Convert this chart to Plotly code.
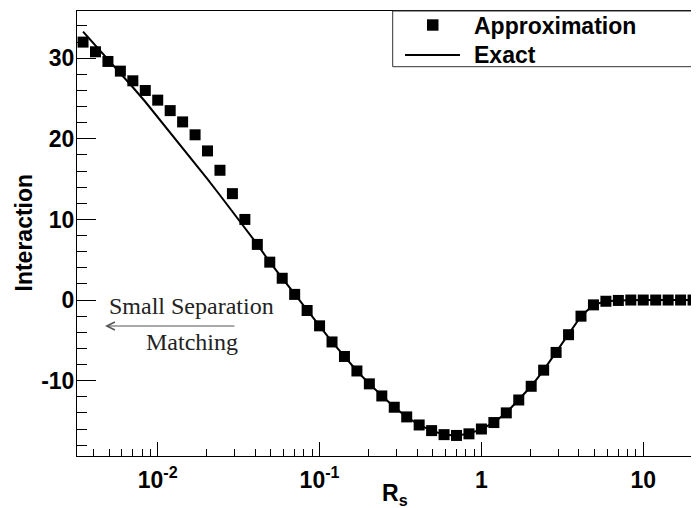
import plotly.graph_objects as go

# ---- data ----
rs = [0.003455, 0.004124, 0.004924, 0.005878, 0.007017, 0.008377, 0.01,
      0.011938, 0.014251, 0.017013, 0.020309, 0.024245, 0.028943, 0.034551,
      0.041246, 0.049239, 0.05878, 0.07017, 0.083768, 0.1,
      0.11938, 0.14251, 0.17013, 0.20309, 0.24245, 0.28943, 0.34551,
      0.41246, 0.49239, 0.5878, 0.7017, 0.83768, 1.0,
      1.1938, 1.4251, 1.7013, 2.0309, 2.4245, 2.8943, 3.4551,
      4.1246, 4.9239, 5.878, 7.017, 8.3768, 10.0,
      11.938, 14.251, 17.013, 20.309]

approx = [32.0, 30.8, 29.6, 28.4, 27.2, 26.0, 24.8,
          23.5, 22.1, 20.5, 18.5, 16.1, 13.2, 10.0,
          6.9, 4.7, 2.7, 0.7, -1.3, -3.2,
          -5.2, -7.0, -8.8, -10.4, -11.9, -13.3, -14.5,
          -15.5, -16.2, -16.7, -16.8, -16.6, -16.0,
          -15.2, -14.0, -12.4, -10.7, -8.7, -6.5, -4.3,
          -2.0, -0.6, -0.15, -0.05, 0.0, 0.0,
          0.0, 0.0, 0.0, 0.0]

exact_rs = rs + [24.245]
exact = [33.3, 31.6, 29.9, 28.2, 26.4, 24.6, 22.7,
         20.8, 18.9, 17.0, 15.0, 13.0, 11.0, 9.0,
         6.9, 4.7, 2.7, 0.7, -1.3, -3.2,
         -5.2, -7.0, -8.8, -10.4, -11.9, -13.3, -14.5,
         -15.5, -16.2, -16.7, -16.8, -16.6, -16.0,
         -15.2, -14.0, -12.4, -10.7, -8.7, -6.5, -4.3,
         -2.0, -0.6, -0.15, -0.05, 0.0, 0.0,
         0.0, 0.0, 0.0, 0.0, 0.0]

x_tickvals = [0.01, 0.1, 1, 10]
x_ticktext = ["10<sup>-2</sup>", "10<sup>-1</sup>", "1", "10"]
x_minorvals = [m * d for d in (0.001, 0.01, 0.1, 1, 10) for m in range(2, 10)]
y_tickvals = [-10, 0, 10, 20, 30]
y_ticktext = ["-10", "0", "10", "20", "30"]

# page body has an 8px margin: draw the figure 8px smaller and shift everything
OFF = 8
W, H = 699 - OFF, 508 - OFF
FL, FT, FR, FB = 77 - OFF, 11 - OFF, 699 - OFF, 456 - OFF   # frame in figure px
PW, PH = FR - FL, FB - FT


def px(x):  # reference-image x pixel -> paper
    return (x - OFF - FL) / PW


def py(y):  # reference-image y pixel -> paper
    return (FB - (y - OFF)) / PH


BOLD = dict(family="Liberation Sans, Arial, sans-serif", size=23, color="black", weight="bold")
SERIF = dict(family="Liberation Serif, Times New Roman, serif", size=24, color="#222222")

fig = go.Figure()
fig.add_trace(go.Scatter(x=exact_rs, y=exact, mode="lines",
                         line=dict(color="black", width=2), name="Exact",
                         showlegend=False))
fig.add_trace(go.Scatter(x=rs, y=approx, mode="markers",
                         marker=dict(symbol="square", size=11, color="black",
                                     line=dict(width=0)),
                         name="Approximation", showlegend=False))

fig.update_layout(
    width=W, height=H,
    margin=dict(l=FL, r=W - FR, t=FT, b=H - FB, pad=0),
    paper_bgcolor="white", plot_bgcolor="white",
    showlegend=False,
    xaxis=dict(type="log", range=[-2.4988, 1.3445],
               tickmode="array", tickvals=x_tickvals, ticktext=x_ticktext,
               ticks="inside", ticklen=14, tickwidth=1, tickcolor="black",
               minor=dict(tickmode="array", tickvals=x_minorvals, ticks="inside",
                          ticklen=7, tickwidth=1, tickcolor="black", showgrid=False),
               showline=True, linecolor="black", linewidth=1, mirror=True,
               showgrid=False, zeroline=False, tickfont=BOLD,
               ticklabelstandoff=3),
    yaxis=dict(range=[-19.35, 35.86],
               tickmode="array", tickvals=y_tickvals, ticktext=y_ticktext,
               ticks="inside", ticklen=19, tickwidth=1, tickcolor="black",
               minor=dict(tick0=0, dtick=2, ticks="inside", ticklen=10,
                          tickwidth=1, tickcolor="black", showgrid=False),
               showline=True, linecolor="black", linewidth=1, mirror=False,
               showgrid=False, zeroline=False, tickfont=BOLD,
               ticklabelstandoff=-3),
)

# legend box (drawn by hand, ROOT style)
fig.add_shape(type="rect", xref="paper", yref="paper",
              x0=px(392.7), x1=px(704), y0=py(66.7), y1=py(11),
              line=dict(color="#333333", width=1), fillcolor="white", layer="above")
fig.add_shape(type="rect", xref="paper", yref="paper",
              x0=px(427), x1=px(438.5), y0=py(30.7), y1=py(19.3),
              line=dict(width=0), fillcolor="black", layer="above")
fig.add_shape(type="line", xref="paper", yref="paper",
              x0=px(405), x1=px(460), y0=py(55), y1=py(55),
              line=dict(color="black", width=2), layer="above")

annots = [
    dict(text="Approximation", x=px(471.7), y=py(25.5), xanchor="left", yanchor="middle", font=BOLD),
    dict(text="Exact", x=px(471.7), y=py(55.5), xanchor="left", yanchor="middle", font=BOLD),
    dict(text="Interaction", x=px(23), y=py(232.5), textangle=-90, xanchor="center", yanchor="middle", font=BOLD),
    dict(text="R<sub>s</sub>", x=px(380), y=py(494), xanchor="left", yanchor="middle", font=BOLD),
    dict(text="Small Separation", x=px(191.7), y=py(306), xanchor="center", yanchor="middle", font=SERIF),
    dict(text="Matching", x=px(192), y=py(342), xanchor="center", yanchor="middle", font=SERIF),
]
for a in annots:
    a.update(xref="paper", yref="paper", showarrow=False)
    fig.add_annotation(**a)

# arrow
fig.add_annotation(xref="paper", yref="paper", x=px(105), y=py(326),
                   ax=131, ay=0, axref="pixel", ayref="pixel", text="",
                   showarrow=True, arrowhead=5, arrowsize=1.6, arrowwidth=1,
                   arrowcolor="#555555")

fig.write_html("out.html")
